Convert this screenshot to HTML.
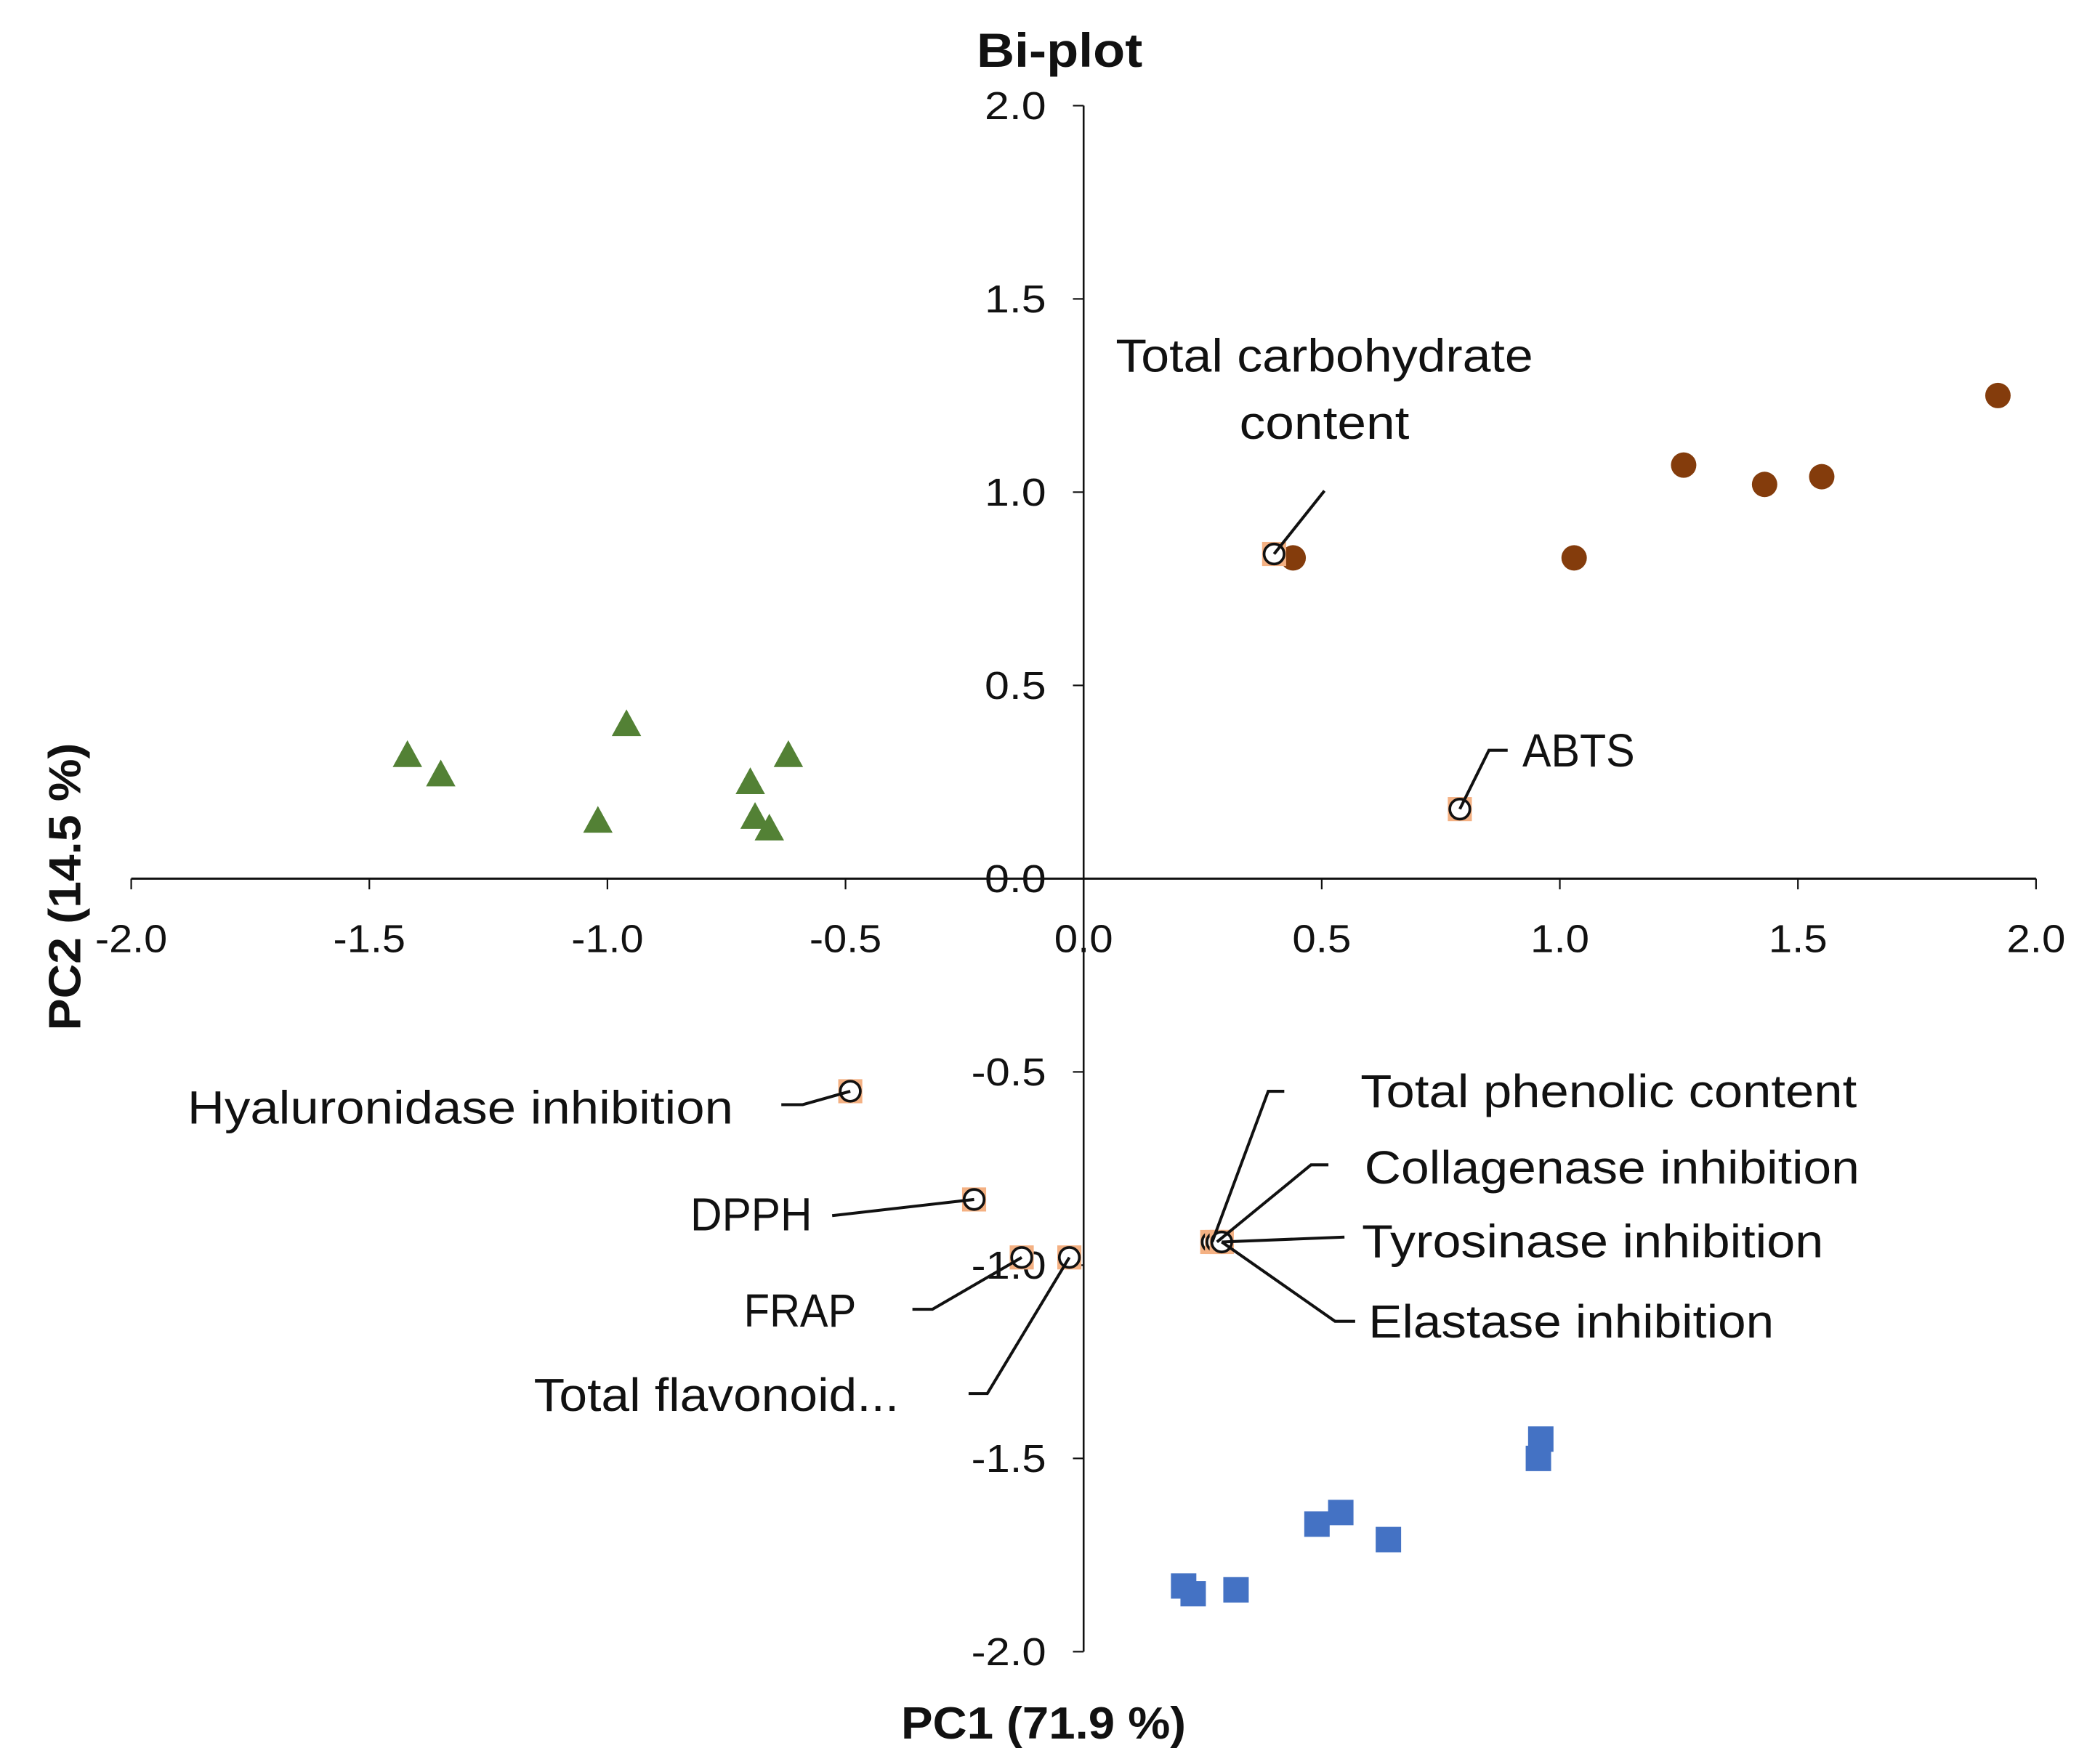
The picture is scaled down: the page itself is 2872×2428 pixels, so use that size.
<!DOCTYPE html>
<html><head><meta charset="utf-8"><style>html,body{margin:0;padding:0;background:#fff}svg{display:block}text{font-family:"Liberation Sans",sans-serif;fill:#111}</style></head>
<body>
<svg id="chart" width="2872" height="2428" viewBox="0 0 1560 1319" xmlns="http://www.w3.org/2000/svg">
<g id="axes"></g><g id="marks"></g><g id="labels"></g>
</svg>
<script>
const xTicks=[-2.0,-1.5,-1.0,-0.5,0.0,0.5,1.0,1.5,2.0];
const yTicks=[2.0,1.5,1.0,0.5,0.0,-0.5,-1.0,-1.5,-2.0];
const groupAX=[0.44,1.03,1.26,1.43,1.55,1.92];
const groupAY=[0.83,0.83,1.07,1.02,1.04,1.25];
const groupBX=[-1.42,-1.35,-0.96,-1.02,-0.70,-0.62,-0.69,-0.66];
const groupBY=[0.32,0.27,0.40,0.15,0.25,0.32,0.16,0.13];
const groupCX=[0.96,0.955,0.54,0.49,0.64,0.21,0.23,0.32];
const groupCY=[-1.45,-1.50,-1.64,-1.67,-1.71,-1.83,-1.85,-1.84];
const loadNames=["Total carbohydrate content","ABTS","Hyaluronidase inhibition","DPPH","FRAP","Total flavonoid...","Total phenolic content","Collagenase inhibition","Tyrosinase inhibition","Elastase inhibition"];
const loadX=[0.40,0.79,-0.49,-0.23,-0.13,-0.03,0.27,0.28,0.29,0.29];
const loadY=[0.84,0.18,-0.55,-0.83,-0.98,-0.98,-0.94,-0.94,-0.94,-0.94];

const NS="http://www.w3.org/2000/svg";
const X0=810,Y0=657,UX=356,UY=289;
const sx=v=>X0+v*UX, sy=v=>Y0-v*UY;
function mk(tag,attrs,parent,txt){const e=document.createElementNS(NS,tag);for(const k in attrs)e.setAttribute(k,attrs[k]);if(txt!==undefined)e.textContent=txt;document.getElementById(parent).appendChild(e);return e;}
let e=mk('line',{x1:sx(-2),x2:sx(2),y1:Y0,y2:Y0,stroke:'#111','stroke-width':1.6},'axes');


e=mk('line',{x1:X0,x2:X0,y1:sy(2),y2:sy(-2),stroke:'#111','stroke-width':1.4},'axes');


xTicks.forEach(v=>{
 let t=mk('line',{x1:sx(v),x2:sx(v),y1:Y0,y2:Y0+8,stroke:'#111','stroke-width':1.2},'axes');
 
 
 const s=v.toFixed(1);
 let l=mk('text',{x:sx(v),y:712,'text-anchor':'middle','font-size':29,textLength:s.length>3?54:44,lengthAdjust:'spacingAndGlyphs'},'axes',s);
 
 
});
yTicks.forEach(v=>{
 let t=mk('line',{x1:X0-8,x2:X0,y1:sy(v),y2:sy(v),stroke:'#111','stroke-width':1.2},'axes');
 
 
 const s=v.toFixed(1);
 let l=mk('text',{x:782,y:sy(v)+10,'text-anchor':'end','font-size':29,textLength:s.length>3?56:46,lengthAdjust:'spacingAndGlyphs'},'axes',s);
 
 
});
e=mk('text',{x:792,y:50,'text-anchor':'middle','font-size':36,'font-weight':'bold',textLength:124,lengthAdjust:'spacingAndGlyphs'},'axes','Bi-plot');


e=mk('text',{x:780,y:1300,'text-anchor':'middle','font-size':34,'font-weight':'bold',textLength:213,lengthAdjust:'spacingAndGlyphs'},'axes','PC1 (71.9 %)');


e=mk('text',{x:0,y:0,'text-anchor':'middle','font-size':34,'font-weight':'bold',textLength:215,lengthAdjust:'spacingAndGlyphs',transform:'translate(60,663) rotate(-90)'},'axes','PC2 (14.5 %)');


groupAX.forEach((v,i)=>{
 let m=mk('circle',{cx:sx(v),cy:sy(groupAY[i]),r:9.5,fill:'#843C0C'},'marks');
 
 
});
groupBX.forEach((v,i)=>{
 const x=sx(v),y=sy(groupBY[i]);
 let m=mk('polygon',{points:`${x},${y-11} ${x-11},${y+9} ${x+11},${y+9}`,fill:'#538135'},'marks');
 
 
});
groupCX.forEach((v,i)=>{
 const x=sx(v),y=sy(groupCY[i]);
 let m=mk('rect',{x:x-9.5,y:y-9.5,width:19,height:19,fill:'#4472C4'},'marks');
 
 
});
loadX.forEach((v,i)=>{
 const x=sx(v),y=sy(loadY[i]);
 let s=mk('rect',{x:x-9,y:y-9,width:18,height:18,fill:'#F4B183'},'marks');
 
 
 let c=mk('circle',{cx:x,cy:y,r:7.5,fill:'#fff',stroke:'#111','stroke-width':2},'marks');
 
 
});
const lab=[
 {lines:["Total carbohydrate","content"],w:[312,127],tx:990,ty:278,anchor:'middle',path:[[990,367]]},
 {lines:["ABTS"],w:[84],tx:1138,ty:573,anchor:'start',path:[[1127,561],[1113,561]]},
 {lines:["Hyaluronidase inhibition"],w:[408],tx:548,ty:840,anchor:'end',path:[[584,826],[600,826]]},
 {lines:["DPPH"],w:[91],tx:607,ty:920,anchor:'end',path:[[622,909]]},
 {lines:["FRAP"],w:[84],tx:640,ty:992,anchor:'end',path:[[682,979],[697,979]]},
 {lines:["Total flavonoid..."],w:[273],tx:672,ty:1055,anchor:'end',path:[[724,1042],[738,1042]]},
 {lines:["Total phenolic content"],w:[371],tx:1017,ty:828,anchor:'start',path:[[960,816],[948,816]]},
 {lines:["Collagenase inhibition"],w:[370],tx:1020,ty:885,anchor:'start',path:[[993,871],[980,871]]},
 {lines:["Tyrosinase inhibition"],w:[345],tx:1018,ty:940,anchor:'start',path:[[1005,925]]},
 {lines:["Elastase inhibition"],w:[303],tx:1023,ty:1000,anchor:'start',path:[[1013,988],[998,988]]}
];
lab.forEach((L,i)=>{
 const pts=L.path.concat([[sx(loadX[i]),sy(loadY[i])]]);
 let p=mk('polyline',{points:pts.map(q=>q.join(',')).join(' '),fill:'none',stroke:'#111','stroke-width':2.2},'labels');
 
 
 L.lines.forEach((s,j)=>{
  let t=mk('text',{x:L.tx,y:L.ty+j*50,'text-anchor':L.anchor,'font-size':35,textLength:L.w[j],lengthAdjust:'spacingAndGlyphs'},'labels',s);
  
  
 });
});
</script>
</body></html>
